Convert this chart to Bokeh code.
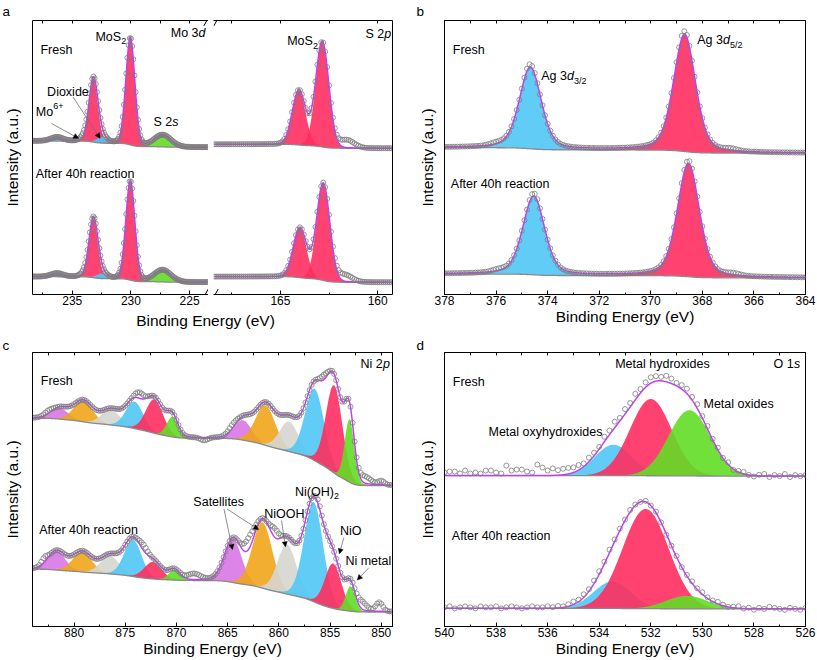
import numpy as np
from math import erf, log, sqrt, pi
from bokeh.plotting import figure
from bokeh.layouts import row, column
from bokeh.models import Range1d, LinearAxis, Label, FixedTicker
from bokeh.embed import file_html
from bokeh.resources import INLINE
from bokeh.models import Arrow, NormalHead

# ======================= DATA =======================
# Panel a : Mo 3d / S 2s  (binding energy eV, peak heights in a.u.)
MO_KINDS = ["blue", "red", "blue", "red", "green"]
MO_CENTERS = [236.3, 233.2, 232.5, 230.05, 227.3]
MO_WIDTHS = [1.2, 0.9, 1.0, 0.9, 1.7]
MO_HEIGHTS_FRESH = [4, 64, 6, 108, 12]
MO_HEIGHTS_AFTER = [3.5, 60, 5, 100, 12]
MO_BG_FRESH = [148.3, 154.7]          # low-BE end, high-BE end
MO_BG_AFTER = [12.3, 18.0]
MO_DEV_FRESH = [[234.0, 3, 0.8]]
MO_DEV_AFTER = [[234.0, 2, 0.8]]

# Panel a : S 2p
S_KINDS = ["red", "red"]
S_CENTERS_FRESH = [164.05, 162.85]
S_CENTERS_AFTER = [164.0, 162.8]
S_WIDTHS = [0.8, 0.8]
S_HEIGHTS_FRESH = [55, 106]
S_HEIGHTS_AFTER = [50, 98]
S_BG_FRESH = [147.3, 151.3]
S_BG_AFTER = [12.3, 18.0]
S_DEV_FRESH = [[161.6, 8, 0.9]]
S_DEV_AFTER = [[161.7, 7, 0.9]]

# Panel b : Ag 3d
AG_KINDS = ["blue", "red"]
AG_CENTERS_FRESH = [374.67, 368.69]
AG_CENTERS_AFTER = [374.54, 368.54]
AG_WIDTHS = [1.0, 1.0]
AG_HEIGHTS_FRESH = [82, 118]
AG_HEIGHTS_AFTER = [79, 114]
AG_BG_FRESH = [142.3, 148.0]
AG_BG_AFTER = [16.7, 20.7]
AG_DEV_FRESH = [[374.7, 3, 0.35], [368.7, 3, 0.35], [376.0, 2, 0.6], [366.9, 2, 0.6]]
AG_DEV_AFTER = [[374.55, 3, 0.35], [368.55, 3, 0.35], [375.9, 2, 0.6], [366.8, 2, 0.6]]

# Panel c : Ni 2p (high BE -> low BE)
NI_KINDS = ["violet", "orange", "lgray", "blue", "red", "green"] * 2
NI_WIDTHS = [2.0, 2.2, 2.2, 2.0, 2.0, 1.3, 2.0, 2.3, 2.2, 2.2, 1.9, 1.1]
NI_CENTERS_FRESH = [881.4, 879.1, 876.4, 874.1, 872.15, 870.4, 863.5, 861.3, 859.0, 856.5, 854.6, 853.1]
NI_HEIGHTS_FRESH = [11, 21, 15, 27, 34, 20, 20, 40, 30, 72, 88, 63]
NI_CENTERS_AFTER = [881.7, 879.2, 876.5, 874.25, 872.3, 870.2, 864.45, 861.6, 859.2, 856.6, 854.7, 853.0]
NI_HEIGHTS_AFTER = [19, 20, 18, 37, 17, 10, 43, 66, 50, 100, 45, 25]
NI_BG_FRESH = [141.0, 209.3]
NI_BG_AFTER = [14.3, 57.7]
NI_DEV_FRESH = [[873.6, 6, 1.0], [867.3, -3, 0.8], [855.6, 5, 0.8], [851.6, 7, 1.4],
                [850.0, 4, 0.7], [882.5, 3, 1.0], [864.5, 4, 1.0]]
NI_DEV_AFTER = [[862.9, 12, 1.2], [860.4, 9, 0.9], [868.3, 6, 1.5], [873.2, 6, 0.9],
                [851.9, 8, 1.2], [850.2, 9, 0.8], [882.9, 5, 0.7], [856.1, 4, 0.6]]

# Panel d : O 1s
O_KINDS = ["blue", "red", "green"]
O_CENTERS_FRESH = [533.45, 532.0, 530.5]
O_HEIGHTS_FRESH = [31, 77, 66]
O_WIDTHS_FRESH = [1.7, 1.9, 1.9]
O_CENTERS_AFTER = [533.5, 532.2, 530.6]
O_HEIGHTS_AFTER = [27, 100, 13]
O_WIDTHS_AFTER = [1.7, 2.1, 1.9]
O_BG_FRESH = [151.0, 151.5]
O_BG_AFTER = [17.7, 18.2]
# point-by-point deviations of the measured O 1s data (540 -> 526 eV, 0.2 eV steps)
O_DEV_FRESH = [3, 4, 4, 2, 5, 2, 3, 2, 5, 5,
               3, 2, 10, 5, 6, 6, 4, 3, 11, 8,
               5, 7, 5, 6, 6, 5, 5, 3, 4, 3,
               2, 5, 4, 6, 3, 5, 4, 6, 4, 5,
               6, 5, 4, 6, 5, 3, 4, 5, 3, 4,
               2, 3, 1, 2, 0, 2, -1, 1, 2, 0,
               -1, 1, 2, -1, 1, 0, 2, -1, 1, 0, 1]
O_DEV_AFTER = [1, 2, 0, 1, 2, 1, 0, 2, 1, 1,
               2, 0, 1, 2, 1, 0, 1, 2, 1, 1,
               2, 1, 2, 1, 2, 3, 2, 3, 2, 3,
               3, 2, 3, 2, 2, 1, 2, 1, 0, 1,
               0, 1, 0, -1, 0, 1, 0, 1, 2, 1,
               2, 1, 1, 2, 1, 0, 1, 2, 0, 1,
               -1, 1, 0, 2, 1, 0, -1, 1, 0, -1, 1]

# Axis ticks
A1_MAJOR = [235, 230, 225]
A1_MINOR = [237.5, 232.5, 227.5]
A2_MAJOR = [165, 160]
A2_MINOR = [167.5, 162.5]
B_MAJOR = [378, 376, 374, 372, 370, 368, 366, 364]
B_MINOR = [377, 375, 373, 371, 369, 367, 365]
C_MAJOR = [880, 875, 870, 865, 860, 855, 850]
C_MINOR = [882.5, 877.5, 872.5, 867.5, 862.5, 857.5, 852.5]
D_MAJOR = [540, 538, 536, 534, 532, 530, 528, 526]
D_MINOR = [539, 537, 535, 533, 531, 529, 527]

# ======================= STYLE =======================
FONT = "Liberation Sans"
COL = {"red": "#ff2d5f", "blue": "#50c8f5", "green": "#63dd25", "orange": "#f0a51a",
       "violet": "#d877e6", "lgray": "#d6d6d0"}
ENV = "#c040f0"
BGC = "#8a8a8a"
PTC = "#7c7c7c"
LN2 = log(2)
erfv = np.vectorize(erf)

# reference geometry of each frame (pixels of the picture) + x range
GA1 = dict(L=31, R=208, B=294, xl=238.39, xr=223.39)
GA2 = dict(L=213, R=392, B=294, xl=168.44, xr=159.24)
GB = dict(L=444, R=805, B=294, xl=378.0, xr=364.0)
GC = dict(L=31, R=392, B=626, xl=884.06, xr=848.9)
GD = dict(L=444, R=805, B=626, xl=540.0, xr=526.0)


def cx(g, px):
    return g["xl"] + (px - g["L"]) * (g["xr"] - g["xl"]) / (g["R"] - g["L"])


def cy(g, py):
    return g["B"] - py


def peak(x, c, h, w, eta):
    t = (x - c) / w
    return h * ((1 - eta) * np.exp(-4 * LN2 * t * t) + eta / (1 + 4 * t * t))


def shirley(x, centers, heights, widths, eta, lo, hi):
    num = np.zeros_like(x, dtype=float)
    den = 0.0
    for c, h, w in zip(centers, heights, widths):
        s = w / (2 * sqrt(2 * LN2))
        g = 0.5 * (1 + erfv((x - c) / (s * sqrt(2))))
        l = 0.5 + np.arctan(2 * (x - c) / w) / pi
        ag = (1 - eta) * w * sqrt(pi / (4 * LN2))
        al = eta * w * pi / 2
        num += h * (ag * g + al * l)
        den += h * (ag + al)
    return lo + (hi - lo) * num / den


def spectrum(p, xlo, xhi, centers, heights, widths, kinds, eta, bg, step, bumps=(), dev=None):
    xf = np.linspace(xhi, xlo, 900)
    b = shirley(xf, centers, heights, widths, eta, bg[0], bg[1])
    total = np.zeros_like(xf)
    for c, h, w, k in zip(centers, heights, widths, kinds):
        comp = peak(xf, c, h, w, eta)
        total += comp
        m = comp > 0.3
        p.varea(x=xf[m], y1=b[m], y2=(b + comp)[m], fill_color=COL[k], fill_alpha=0.9)
    p.line(xf, b, line_color=BGC, line_width=1.3)
    p.line(xf, b + total, line_color=ENV, line_width=1.5)
    xd = np.round(np.arange(xhi, xlo - 1e-9, -step), 3)
    yd = shirley(xd, centers, heights, widths, eta, bg[0], bg[1])
    for c, h, w in zip(centers, heights, widths):
        yd = yd + peak(xd, c, h, w, eta)
    for c, a, w in bumps:
        yd = yd + peak(xd, c, a, w, 0.0)
    if dev is not None:
        yd = yd + np.array(dev[:len(xd)], dtype=float)
    p.scatter(xd, yd, marker="circle", size=5, line_color=PTC, fill_color=None, line_width=0.8)


def plain_axis(ax):
    ax.major_tick_in = 0
    ax.major_tick_out = 0
    ax.minor_tick_in = 0
    ax.minor_tick_out = 0
    ax.major_label_standoff = 0
    ax.axis_line_color = "black"


def make_panel(w, h, mbl, mbr, mbt, mbb, g, yh, majors, minors, letter=None, letter_off=0,
               letter_standoff=0, left=True, right=False, outline=False, standoff=12, xlabel=False):
    p = figure(width=w, height=h, x_range=Range1d(g["xl"], g["xr"]), y_range=Range1d(0, yh),
               output_backend="svg", toolbar_location=None,
               min_border_left=mbl, min_border_right=mbr, min_border_top=mbt, min_border_bottom=mbb,
               y_axis_location="left" if left else None)
    p.grid.visible = False
    p.outline_line_color = "black" if outline else None
    p.outline_line_width = 1
    p.background_fill_color = "white"
    p.border_fill_color = "white"
    if letter:
        p.title.text = letter
        p.title.align = "left"
        p.title.offset = letter_off
        p.title.standoff = letter_standoff
        p.title.text_font = FONT
        p.title.text_font_size = "13.5px"
        p.title.text_font_style = "normal"
        p.title.text_color = "black"
    xa = p.xaxis[0]
    xa.ticker = FixedTicker(ticks=majors, minor_ticks=minors)
    xa.major_tick_in = 4
    xa.major_tick_out = 0
    xa.minor_tick_in = 2
    xa.minor_tick_out = 0
    xa.axis_line_color = "black"
    xa.major_tick_line_color = "black"
    xa.minor_tick_line_color = "black"
    xa.major_label_text_font = FONT
    xa.major_label_text_font_size = "12px"
    xa.major_label_text_color = "black"
    xa.major_label_standoff = 1
    if xlabel:
        xa.axis_label = "Binding Energy (eV)"
        xa.axis_label_text_font = FONT
        xa.axis_label_text_font_size = "15.5px"
        xa.axis_label_text_font_style = "normal"
        xa.axis_label_text_color = "black"
        xa.axis_label_standoff = 0
    # top axis: tick marks only (no tick labels)
    top = LinearAxis(ticker=FixedTicker(ticks=[], minor_ticks=list(majors) + list(minors)))
    plain_axis(top)
    top.minor_tick_in = 3
    top.minor_tick_line_color = "black"
    p.add_layout(top, "above")
    if left:
        ya = p.yaxis[0]
        ya.ticker = FixedTicker(ticks=[])
        plain_axis(ya)
        ya.axis_label = "Intensity (a.u.)"
        ya.axis_label_text_font = FONT
        ya.axis_label_text_font_size = "15.5px"
        ya.axis_label_text_font_style = "normal"
        ya.axis_label_text_color = "black"
        ya.axis_label_standoff = standoff
    if right:
        ra = LinearAxis(ticker=FixedTicker(ticks=[]))
        plain_axis(ra)
        p.add_layout(ra, "right")
    return p


def text(p, g, px, py, s, size="12.5px", style="normal", align="left", baseline="middle"):
    p.add_layout(Label(x=cx(g, px), y=cy(g, py), text=s, text_font=FONT, text_font_size=size,
                       text_font_style=style, text_color="black", text_align=align,
                       text_baseline=baseline))


def arrow(p, g, x0, y0, x1, y1):
    end = NormalHead(size=5, fill_color="black", line_color="black", line_width=0.5)
    p.add_layout(Arrow(end=end, x_start=cx(g, x0), y_start=cy(g, y0), x_end=cx(g, x1), y_end=cy(g, y1),
                       line_color="#707070", line_width=0.8))


def breakmark(p, g, px, py):
    p.line([cx(g, px - 2.2), cx(g, px + 2.2)], [cy(g, py + 4), cy(g, py - 4)],
           line_color="black", line_width=1)


# ======================= PANEL a =======================
fa1 = make_panel(208, 309, 31, 0, 18, 15, GA1, 276, A1_MAJOR, A1_MINOR, letter="a",
                 letter_off=-30, letter_standoff=3, left=True, standoff=12)
fa2 = make_panel(202, 309, 5, 18, 18, 15, GA2, 276, A2_MAJOR, A2_MINOR, left=False, right=True)

spectrum(fa1, 223.4, 238.4, MO_CENTERS, MO_HEIGHTS_FRESH, MO_WIDTHS, MO_KINDS, 0.1, MO_BG_FRESH, 0.1, MO_DEV_FRESH)
spectrum(fa1, 223.4, 238.4, MO_CENTERS, MO_HEIGHTS_AFTER, MO_WIDTHS, MO_KINDS, 0.1, MO_BG_AFTER, 0.1, MO_DEV_AFTER)
spectrum(fa2, 159.25, 168.4, S_CENTERS_FRESH, S_HEIGHTS_FRESH, S_WIDTHS, S_KINDS, 0.05, S_BG_FRESH, 0.1, S_DEV_FRESH)
spectrum(fa2, 159.25, 168.4, S_CENTERS_AFTER, S_HEIGHTS_AFTER, S_WIDTHS, S_KINDS, 0.05, S_BG_AFTER, 0.1, S_DEV_AFTER)

text(fa1, GA1, 39, 48, "Fresh")
text(fa1, GA1, 94.3, 34.7, "MoS")
text(fa1, GA1, 120.2, 39, "2", size="9px")
text(fa1, GA1, 170, 30.5, "Mo 3")
text(fa1, GA1, 197.9, 30.5, "d", style="italic")
text(fa1, GA1, 45.7, 90, "Dioxide")
text(fa1, GA1, 34.3, 110, "Mo")
text(fa1, GA1, 51.8, 104, "6+", size="9px")
text(fa1, GA1, 152.7, 120, "S 2")
text(fa1, GA1, 171.5, 120, "s", style="italic")
text(fa1, GA1, 34.3, 172.5, "After 40h reaction")
arrow(fa1, GA1, 50, 121.7, 77.3, 136.7)
arrow(fa1, GA1, 71.7, 95, 99, 136.7)
breakmark(fa1, GA1, 205.5, 19.5)
breakmark(fa1, GA1, 205.5, 292.5)

text(fa2, GA2, 286.7, 39, "MoS")
text(fa2, GA2, 312.6, 43.3, "2", size="9px")
text(fa2, GA2, 365, 31.7, "S 2")
text(fa2, GA2, 383.8, 31.7, "p", style="italic")
breakmark(fa2, GA2, 215.5, 19.5)
breakmark(fa2, GA2, 215.5, 292.5)

# shared x-axis title of panel a (spans both segments)
la = figure(width=410, height=26, x_range=Range1d(0, 410), y_range=Range1d(0, 1),
            output_backend="svg", toolbar_location=None, min_border=0,
            x_axis_location=None, y_axis_location=None)
la.grid.visible = False
la.outline_line_color = None
la.border_fill_color = "white"
la.title.text = "Binding Energy (eV)"
la.title.align = "center"
la.title.offset = 6.5
la.title.standoff = 0
la.title.text_font = FONT
la.title.text_font_size = "15.5px"
la.title.text_font_style = "normal"
la.title.text_color = "black"

# ======================= PANEL b =======================
fb = make_panel(407, 335, 34, 12, 18, 41, GB, 276, B_MAJOR, B_MINOR, letter="b",
                letter_off=-28, letter_standoff=3, outline=True, standoff=9, xlabel=True)
spectrum(fb, 364, 378, AG_CENTERS_FRESH, AG_HEIGHTS_FRESH, AG_WIDTHS, AG_KINDS, 0.35, AG_BG_FRESH, 0.1, AG_DEV_FRESH)
spectrum(fb, 364, 378, AG_CENTERS_AFTER, AG_HEIGHTS_AFTER, AG_WIDTHS, AG_KINDS, 0.35, AG_BG_AFTER, 0.1, AG_DEV_AFTER)
text(fb, GB, 452.3, 48, "Fresh")
text(fb, GB, 540.7, 74, "Ag 3")
text(fb, GB, 566.6, 74, "d", style="italic")
text(fb, GB, 573.6, 79, "3/2", size="9px")
text(fb, GB, 696.7, 38, "Ag 3")
text(fb, GB, 722.6, 38, "d", style="italic")
text(fb, GB, 729.6, 43, "5/2", size="9px")
text(fb, GB, 450.3, 182.5, "After 40h reaction")

# ======================= PANEL c =======================
fc = make_panel(410, 325, 31, 18, 16, 34, GC, 275, C_MAJOR, C_MINOR, letter="c",
                letter_off=-30, letter_standoff=0, outline=True, standoff=12, xlabel=True)
spectrum(fc, 849.0, 884.0, NI_CENTERS_FRESH, NI_HEIGHTS_FRESH, NI_WIDTHS, NI_KINDS, 0.1, NI_BG_FRESH, 0.2, NI_DEV_FRESH)
spectrum(fc, 849.0, 884.0, NI_CENTERS_AFTER, NI_HEIGHTS_AFTER, NI_WIDTHS, NI_KINDS, 0.1, NI_BG_AFTER, 0.2, NI_DEV_AFTER)
text(fc, GC, 360, 363, "Ni 2")
text(fc, GC, 382.4, 363, "p", style="italic")
text(fc, GC, 39.3, 380, "Fresh")
text(fc, GC, 37.7, 528.7, "After 40h reaction")
text(fc, GC, 192.3, 501.3, "Satellites")
text(fc, GC, 263.3, 513.3, "NiOOH")
text(fc, GC, 294.3, 490.8, "Ni(OH)")
text(fc, GC, 333.4, 495, "2", size="9px")
text(fc, GC, 339.3, 530, "NiO")
text(fc, GC, 344.8, 560, "Ni metal")
arrow(fc, GC, 223, 508, 231.5, 548.7)
arrow(fc, GC, 226, 508, 257.7, 528.7)
arrow(fc, GC, 280.7, 519.7, 284.7, 546)
arrow(fc, GC, 343.3, 536.7, 338.7, 553)
arrow(fc, GC, 368.3, 567, 356.7, 579.3)

# ======================= PANEL d =======================
fd = make_panel(407, 325, 34, 12, 16, 34, GD, 275, D_MAJOR, D_MINOR, letter="d",
                letter_off=-28, letter_standoff=0, outline=True, standoff=9, xlabel=True)
spectrum(fd, 526, 540, O_CENTERS_FRESH, O_HEIGHTS_FRESH, O_WIDTHS_FRESH, O_KINDS, 0.0, O_BG_FRESH, 0.2, (), O_DEV_FRESH)
spectrum(fd, 526, 540, O_CENTERS_AFTER, O_HEIGHTS_AFTER, O_WIDTHS_AFTER, O_KINDS, 0.0, O_BG_AFTER, 0.2, (), O_DEV_AFTER)
text(fd, GD, 773, 362.5, "O 1")
text(fd, GD, 793.4, 362.5, "s", style="italic")
text(fd, GD, 452.3, 380.5, "Fresh")
text(fd, GD, 614.7, 362.3, "Metal hydroxides")
text(fd, GD, 703, 402.8, "Metal oxides")
text(fd, GD, 488, 431, "Metal oxyhydroxides")
text(fd, GD, 451.3, 534.7, "After 40h reaction")

top_row = row(column(row(fa1, fa2), la), fb)
bot_row = row(fc, fd)
page = column(top_row, bot_row)

open("out.html", "w").write(file_html(page, INLINE))
